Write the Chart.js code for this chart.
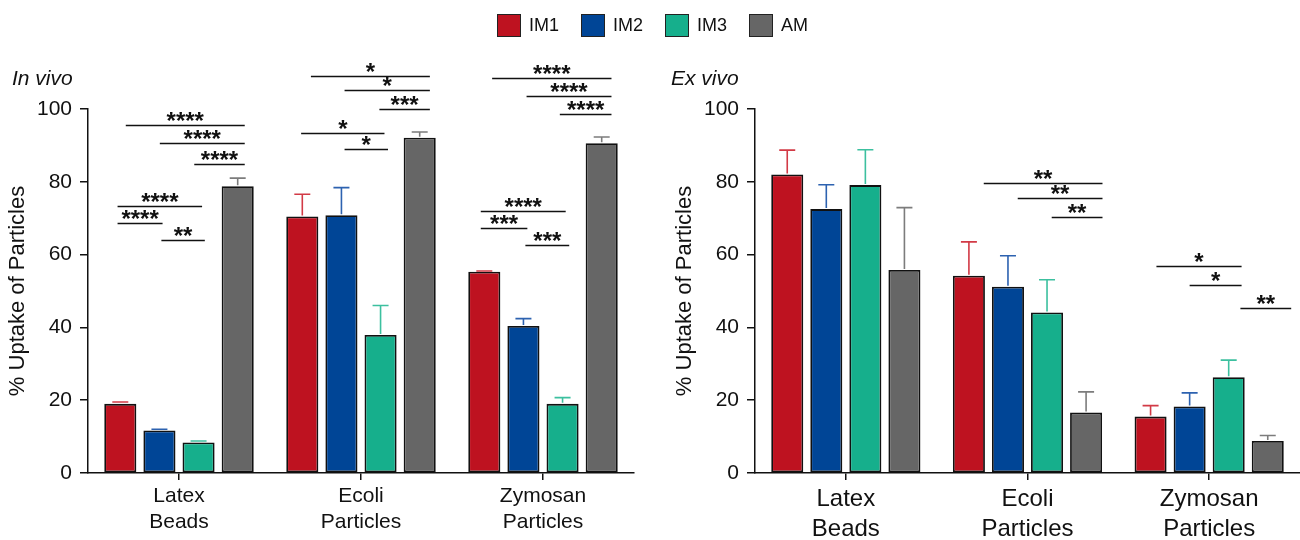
<!DOCTYPE html>
<html><head><meta charset="utf-8">
<script src="https://cdn.jsdelivr.net/npm/chart.js@4.4.1/dist/chart.umd.min.js"></script>
<style>
html,body{margin:0;padding:0;background:#fff;}
#wrap{position:relative;width:1300px;height:540px;font-family:"Liberation Sans",Arial,sans-serif;color:#111;overflow:hidden;}
.cv{position:absolute;top:0;width:650px;height:540px;}
#legend{position:absolute;left:497px;top:14px;display:flex;}
.li{display:flex;align-items:center;width:84px;height:23px;}
.sw{box-sizing:border-box;width:24px;height:23px;border:1.5px solid #222;margin-right:8px;}
.lt{font-size:18px;line-height:23px;}
.panel{position:absolute;top:66px;font-size:21px;line-height:24px;font-style:italic;}
</style></head>
<body><div id="wrap">
<div class="cv" style="left:0"><canvas id="c1" width="650" height="540"></canvas></div>
<div class="cv" style="left:650px"><canvas id="c2" width="650" height="540"></canvas></div>
<div class="panel" style="left:12px">In vivo</div>
<div class="panel" style="left:671px">Ex vivo</div>
<div id="legend"></div>
</div>
<script>
// ---- data ----
const categories = [['Latex','Beads'],['Ecoli','Particles'],['Zymosan','Particles']];
const seriesNames = ['IM1','IM2','IM3','AM'];
const yTicks = [0,20,40,60,80,100];

const inVivoIM1 = [19.0, 70.5, 55.3];
const inVivoIM2 = [11.7, 70.8, 40.4];
const inVivoIM3 = [8.4, 37.9, 19.0];
const inVivoAM  = [78.8, 92.1, 90.6];
const inVivoIM1Err = [0.5, 6.1, 0.2];
const inVivoIM2Err = [0.3, 7.6, 2.0];
const inVivoIM3Err = [0.4, 8.1, 1.7];
const inVivoAMErr  = [2.2, 1.6, 1.7];

const exVivoIM1 = [82.0, 54.2, 15.5];
const exVivoIM2 = [72.5, 51.2, 18.3];
const exVivoIM3 = [79.1, 44.1, 26.3];
const exVivoAM  = [55.8, 16.6, 8.8];
const exVivoIM1Err = [6.7, 9.3, 3.0];
const exVivoIM2Err = [6.7, 8.5, 3.7];
const exVivoIM3Err = [9.7, 9.0, 4.7];
const exVivoAMErr  = [17.1, 5.7, 1.5];

// significance brackets: [category, from bar (index), to bar (index), y value, label]
const inVivoSig = [
  [0, 0.14, 3.18, 95.6, '****'],
  [0, 1.01, 3.18, 90.7, '****'],
  [0, 1.89, 3.18, 84.8, '****'],
  [0, -0.07, 2.09, 73.4, '****'],
  [0, -0.07, 1.08, 68.8, '****'],
  [0, 1.05, 2.16, 63.9, '**'],
  [1, 0.22, 3.26, 109.2, '*'],
  [1, 1.08, 3.26, 105.1, '*'],
  [1, 1.97, 3.26, 99.9, '***'],
  [1, -0.03, 2.10, 93.4, '*'],
  [1, 1.08, 2.19, 89.1, '*'],
  [2, 0.20, 3.25, 108.6, '****'],
  [2, 1.08, 3.25, 103.7, '****'],
  [2, 1.93, 3.25, 98.5, '****'],
  [2, -0.09, 2.08, 72.0, '****'],
  [2, -0.09, 1.10, 67.2, '***'],
  [2, 1.05, 2.17, 62.6, '***']
];
const exVivoSig = [
  [1, 0.38, 3.42, 79.7, '**'],
  [1, 1.25, 3.42, 75.5, '**'],
  [1, 2.12, 3.42, 70.2, '**'],
  [2, 0.15, 2.33, 57.0, '*'],
  [2, 1.00, 2.33, 51.6, '*'],
  [2, 2.30, 3.60, 45.3, '**']
];

// ---- styles ----
const FAM = '"Liberation Sans", Arial, sans-serif';
const fills = ['#BE1220', '#004596', '#16AF8C', '#666666'];
const errColors = ['#d23a46', '#2d62b0', '#3cc09f', '#7c7c7c'];

// legend
const leg = document.getElementById('legend');
seriesNames.forEach((n, i) => {
  const d = document.createElement('div'); d.className = 'li';
  d.innerHTML = '<div class="sw" style="background:' + fills[i] + '"></div><span class="lt">' + n + '</span>';
  leg.appendChild(d);
});

function overlay(errs, sig) {
  return {
    id: 'overlay',
    afterDatasetsDraw(chart) {
      const c = chart.ctx, y = chart.scales.y;
      chart.data.datasets.forEach((ds, di) => {
        const meta = chart.getDatasetMeta(di);
        c.save(); c.strokeStyle = errColors[di]; c.lineWidth = 1.6;
        meta.data.forEach((bar, i) => {
          const top = y.getPixelForValue(ds.data[i] + errs[di][i]);
          const x = bar.x;
          c.beginPath();
          c.moveTo(x, bar.y - 1); c.lineTo(x, top);
          c.moveTo(x - 8, top); c.lineTo(x + 8, top);
          c.stroke();
        });
        c.restore();
      });
      const m0 = chart.getDatasetMeta(0), m1 = chart.getDatasetMeta(1);
      c.save();
      c.strokeStyle = '#111'; c.fillStyle = '#111'; c.lineWidth = 1.5;
      c.font = 'bold 24px ' + FAM; c.textAlign = 'center'; c.textBaseline = 'alphabetic';
      sig.forEach(([cat, a, b, v, lab]) => {
        const x0 = m0.data[cat].x, slot = m1.data[cat].x - x0;
        const xa = x0 + a * slot, xb = x0 + b * slot, yy = Math.round(y.getPixelForValue(v)) + 0.5;
        c.beginPath(); c.moveTo(xa, yy); c.lineTo(xb, yy); c.stroke();
        c.fillText(lab, (xa + xb) / 2, yy + 3);
      });
      c.restore();
    }
  };
}

function makeChart(id, means, errs, sig, o) {
  return new Chart(document.getElementById(id), {
    type: 'bar',
    data: {
      labels: categories,
      datasets: seriesNames.map((n, i) => ({
        label: n, data: means[i], backgroundColor: fills[i],
        borderColor: '#111', borderWidth: 1.8, borderSkipped: false,
        categoryPercentage: 0.86, barPercentage: 0.82
      }))
    },
    options: {
      responsive: false, animation: false,
      layout: { padding: { top: 109, right: o.right, left: 0, bottom: 0 } },
      plugins: { legend: { display: false }, tooltip: { enabled: false } },
      scales: {
        x: {
          grid: { display: true, drawOnChartArea: false, offset: false, tickLength: 7, color: '#111', lineWidth: 1.5 },
          border: { color: '#111', width: 1.5 },
          ticks: { color: '#111', font: { size: o.xFont, family: FAM, lineHeight: o.xLH }, padding: 4, maxRotation: 0 },
          afterFit: s => { s.height = 67; }
        },
        y: {
          min: 0, max: 100,
          afterBuildTicks: s => { s.ticks = yTicks.map(v => ({ value: v })); },
          ticks: { color: '#111', font: { size: 21, family: FAM }, padding: 8 },
          grid: { drawOnChartArea: false, tickLength: 8, color: '#111', lineWidth: 1.5 },
          border: { color: '#111', width: 1.5 },
          title: { display: true, text: '% Uptake of Particles', color: '#111', font: { size: 22, family: FAM }, padding: { top: o.titlePad, bottom: 0 } },
          afterFit: s => { s.width = o.yWidth; }
        }
      }
    },
    plugins: [overlay(errs, sig)]
  });
}

makeChart('c1',
  [inVivoIM1, inVivoIM2, inVivoIM3, inVivoAM],
  [inVivoIM1Err, inVivoIM2Err, inVivoIM3Err, inVivoAMErr],
  inVivoSig, { right: 16, yWidth: 88, titlePad: 5, xFont: 21, xLH: 1.2 });
makeChart('c2',
  [exVivoIM1, exVivoIM2, exVivoIM3, exVivoAM],
  [exVivoIM1Err, exVivoIM2Err, exVivoIM3Err, exVivoAMErr],
  exVivoSig, { right: 0, yWidth: 105, titlePad: 22, xFont: 24, xLH: 1.25 });
</script>
</body></html>
